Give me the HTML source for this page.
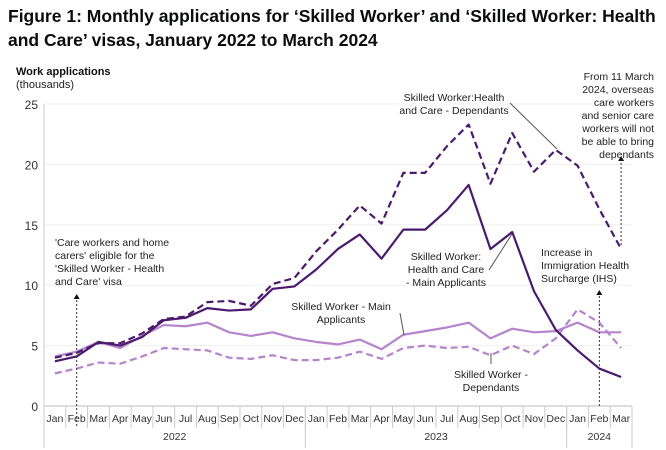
<!DOCTYPE html>
<html><head><meta charset="utf-8"><style>
body{margin:0;background:#fff;width:666px;height:450px;overflow:hidden;font-family:"Liberation Sans",Arial,sans-serif}
h1{position:absolute;left:8px;top:4px;margin:0;font-size:17.5px;line-height:24px;font-weight:bold;color:#0b0c0c;width:656px}
svg{position:absolute;left:0;top:0}
text{font-family:"Liberation Sans",Arial,sans-serif}
</style></head><body>
<h1>Figure 1: Monthly applications for ‘Skilled Worker’ and ‘Skilled Worker: Health and Care’ visas, January 2022 to March 2024</h1>
<svg id="c" width="666" height="450"></svg>
<script>
const months=["Jan","Feb","Mar","Apr","May","Jun","Jul","Aug","Sep","Oct","Nov","Dec","Jan","Feb","Mar","Apr","May","Jun","Jul","Aug","Sep","Oct","Nov","Dec","Jan","Feb","Mar"];
const years=[["2022",0,12],["2023",12,24],["2024",24,27]];
const yTicks=[0,5,10,15,20,25];
const hcMain=[3.7,4.1,5.3,5.0,5.7,7.1,7.3,8.1,7.9,8.0,9.7,9.9,11.3,13.0,14.2,12.2,14.6,14.6,16.2,18.3,13.0,14.4,9.5,6.3,4.6,3.1,2.4];
const hcDep=[4.0,4.4,5.2,5.2,6.0,7.2,7.4,8.6,8.7,8.3,10.1,10.6,12.8,14.6,16.6,15.1,19.3,19.3,21.5,23.3,18.4,22.6,19.4,21.2,19.9,16.3,13.0];
const swMain=[4.1,4.5,5.3,4.8,5.8,6.7,6.6,6.9,6.1,5.8,6.1,5.6,5.3,5.1,5.5,4.7,5.9,6.2,6.5,6.9,5.6,6.4,6.1,6.2,6.9,6.1,6.1];
const swDep=[2.7,3.1,3.6,3.5,4.1,4.8,4.7,4.6,4.0,3.9,4.2,3.8,3.8,4.0,4.5,3.9,4.8,5.0,4.8,4.9,4.2,5.0,4.3,5.6,8.0,6.9,4.8];
const svg=document.getElementById('c');const NS='http://www.w3.org/2000/svg';
const L=44,R=632,T=104,B=406,step=(R-L)/27;
const x=i=>L+step*(i+0.5), y=v=>B-(v/25)*(B-T);
function el(tag,attrs,txt){const e=document.createElementNS(NS,tag);for(const k in attrs)e.setAttribute(k,attrs[k]);if(txt!==undefined)e.textContent=txt;svg.appendChild(e);return e;}
yTicks.forEach(t=>{
 const g=el('line',{x1:L,x2:R,y1:y(t),y2:y(t),stroke:t?'#f0f0f0':'#bbb','stroke-width':1});
 
 const tx=el('text',{x:38,y:y(t)+5,'text-anchor':'end','font-size':12,fill:'#333'},t);
 
});
el('line',{x1:L,x2:L,y1:T,y2:B,stroke:'#ccc'});
months.forEach((m,i)=>{
 const b=el('line',{x1:L+step*i,x2:L+step*i,y1:B,y2:B+22,stroke:'#ccc'});
 const t=el('text',{x:x(i),y:B+16,'text-anchor':'middle','font-size':10.5,fill:'#333'},m);
 
});
el('line',{x1:R,x2:R,y1:B,y2:B+42,stroke:'#ccc'});
years.forEach(([yr,a,b])=>{
 el('line',{x1:L+step*a,x2:L+step*a,y1:B,y2:B+42,stroke:'#ccc'});
 const t=el('text',{x:L+step*(a+b)/2,y:B+34,'text-anchor':'middle','font-size':10.5,fill:'#333'},yr);
 
});
function line(d,col,dash,name){const p=el('polyline',{points:d.map((v,i)=>x(i)+','+y(v)).join(' '),fill:'none',stroke:col,'stroke-width':2.2,'stroke-dasharray':dash?'7,4':'none','stroke-linejoin':'round'});
}
line(swDep,'#b584cc',true,'skilled-worker-dependants-line');
line(swMain,'#b584cc',false,'skilled-worker-main-line');
line(hcDep,'#4b1a6e',true,'health-care-dependants-line');
line(hcMain,'#4b1a6e',false,'health-care-main-line');
function txt(lines,xx,yy,anchor,name,fs){const t=el('text',{x:xx,y:yy,'text-anchor':anchor,'font-size':fs||11,fill:'#222'});
lines.forEach((s,i)=>{const ts=document.createElementNS(NS,'tspan');ts.setAttribute('x',xx);ts.setAttribute('dy',i?13:0);ts.textContent=s;t.appendChild(ts);});}
const yl=el('text',{x:16,y:75,'font-size':11,'font-weight':'bold',fill:'#111'},'Work applications');
const yl2=el('text',{x:16,y:88,'font-size':11,fill:'#222'},'(thousands)');
txt(["'Care workers and home","carers' eligible for the","'Skilled Worker - Health","and Care' visa"],55,246,'start','annotation-care-workers',10.5);
txt(["Skilled Worker:Health","and Care - Dependants"],454,101,'middle','label-hc-dependants',10.5);
txt(["From 11 March","2024, overseas","care workers","and senior care","workers will not","be able to bring","dependants"],654,80,'end','annotation-march-2024',10.5);
txt(["Skilled Worker:","Health and Care","- Main Applicants"],446,260,'middle','label-hc-main',10.5);
txt(["Increase in","Immigration Health","Surcharge (IHS)"],541,256,'start','annotation-ihs',10.5);
txt(["Skilled Worker - Main","Applicants"],341,310,'middle','label-sw-main',10.5);
txt(["Skilled Worker -","Dependants"],491,378,'middle','label-sw-dependants',10.5);
el('line',{x1:510,y1:103,x2:557,y2:149,stroke:'#555'});
el('line',{x1:489,y1:270,x2:512,y2:234,stroke:'#555'});
el('line',{x1:400,y1:313,x2:404,y2:335,stroke:'#555'});
el('line',{x1:491,y1:364,x2:491,y2:353,stroke:'#555'});
function arrow(xx,y1,y2){el('line',{x1:xx,x2:xx,y1:y1,y2:y2+4,stroke:'#333','stroke-dasharray':'2,2'});el('polygon',{points:`${xx-3},${y2+5} ${xx+3},${y2+5} ${xx},${y2}`,fill:'#111'});}
arrow(x(1),426,294);arrow(x(25),406,290);arrow(x(26),245,156);
</script>
</body></html>
